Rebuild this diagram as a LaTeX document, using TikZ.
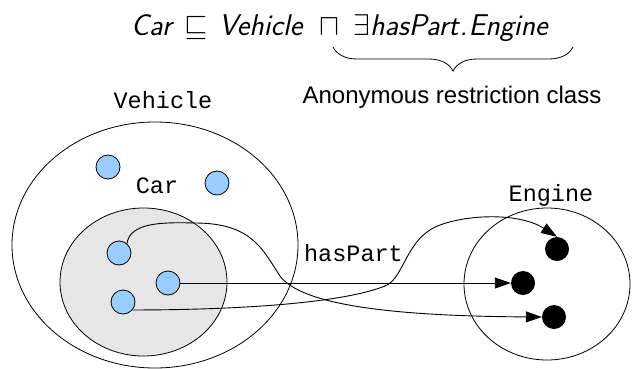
\RequirePackage{fix-cm}
\documentclass[tikz,border=0pt]{standalone}
\usepackage{fontspec}
\newfontfamily\monofont{Liberation Mono}
\newfontfamily\arialfont{Liberation Sans}
\usetikzlibrary{arrows.meta,decorations.pathreplacing,shapes.geometric}
\definecolor{cblue}{HTML}{99CCFF}
\definecolor{cgray}{HTML}{E6E6E6}
\begin{document}
\begin{tikzpicture}[x=1pt,y=1pt,
  setshape/.style={ellipse,draw,line width=0.8pt,inner sep=0pt},
  member/.style={circle,draw,fill=cblue,minimum size=24pt,inner sep=0pt,line width=0.8pt},
  partdot/.style={circle,fill=black,minimum size=24pt,inner sep=0pt},
  lbl/.style={font=\monofont\fontsize{23.5}{26}\selectfont,inner sep=0pt,anchor=base},
  arr/.style={line width=0.9pt,-{Triangle[length=16pt,width=11pt]}}
]
\useasboundingbox (0,0) rectangle (632,368);
% title
\node[anchor=base west,inner sep=0pt,font=\sffamily\itshape\fontsize{30}{34}\selectfont] (axiom) at (131,333)
  {Car\hspace{13pt}$\sqsubseteq$\hspace{11pt}Vehicle\hspace{17pt}$\sqcap$\hspace{14pt}$\exists$hasPart\hspace{1pt}.\hspace{1pt}Engine};
\coordinate (braceL) at (333,321);
\coordinate (braceR) at (573,321);
\draw[line width=0.8pt,decorate,decoration={brace,mirror,amplitude=24pt}] (braceL) -- (braceR);
\node[anchor=base,inner sep=0pt,font=\arialfont\fontsize{24}{28}\selectfont] (anon) at (452,265) {Anonymous restriction class};
% sets
\node[setshape,minimum width=286pt,minimum height=246pt] (vehicle) at (155,123) {};
\node[setshape,fill=cgray,minimum width=167pt,minimum height=148pt] (car) at (143.5,86) {};
\node[setshape,minimum width=166pt,minimum height=152pt] (engine) at (547,84) {};
\node[lbl] (vlabel) at (163,260) {Vehicle};
\node[lbl] (clabel) at (157,175) {Car};
\node[lbl] (elabel) at (551,167) {Engine};
\node[lbl] (hlabel) at (353.5,107) {hasPart};
% individuals
\node[member] (b1) at (108,201) {};
\node[member] (b2) at (217,185) {};
\node[member] (b3) at (119,115) {};
\node[member] (b4) at (168,85) {};
\node[member] (b5) at (123,66) {};
\node[partdot] (e1) at (557,119) {};
\node[partdot] (e2) at (523,85) {};
\node[partdot] (e3) at (554,51) {};
% hasPart links
\draw[arr] (b4.east) -- (e2.west);
\draw[arr] (b5.-40) .. controls (230,58) and (340,64) .. (385,82)
  .. controls (405,90) and (405,130) .. (440,143)
  .. controls (470,154) and (520,155) .. (e1.north);
\draw[arr] (b3.50) .. controls (130,145) and (160,146) .. (195,145)
  .. controls (250,145) and (262,120) .. (278,95)
  .. controls (295,65) and (380,52) .. (e3.west);
\end{tikzpicture}
\end{document}
